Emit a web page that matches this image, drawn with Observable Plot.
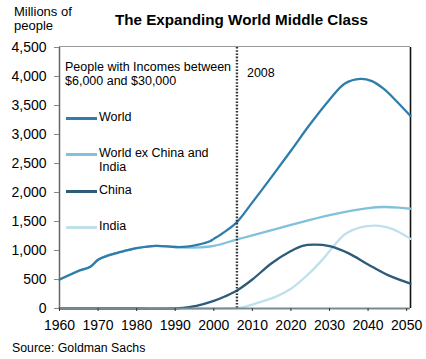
<!DOCTYPE html>
<html>
<head>
<meta charset="utf-8">
<script src="https://cdn.jsdelivr.net/npm/d3@7"></script>
<script src="https://cdn.jsdelivr.net/npm/@observablehq/plot@0.6"></script>
<style>
  body { margin: 0; background: #fff; }
  #wrap { position: relative; width: 426px; height: 359px; font-family: "Liberation Sans", Arial, sans-serif; color: #000; overflow: hidden; }
  #wrap svg { position: absolute; left: 0; top: 0; }
  .t { position: absolute; white-space: nowrap; }
  .leg { position: absolute; left: 66px; font-size: 12.5px; line-height: 13.5px; }
  .leg .sw { position: absolute; left: 0; width: 31px; height: 2.5px; }
  .leg .lb { position: absolute; left: 33px; white-space: nowrap; }
</style>
</head>
<body>
<div id="wrap"></div>
<script>
// ---- data ----
const worldYears = [1960,1963,1965,1968,1970,1972,1975,1978,1980,1985,1990,1993,1996,1999,2000,2003,2006,2010,2015,2020,2025,2030,2034,2038,2041,2044,2047,2051];
const worldValues = [500,590,650,720,840,900,960,1010,1040,1080,1060,1065,1100,1160,1200,1330,1490,1830,2270,2720,3180,3600,3880,3960,3920,3790,3600,3320];

const exYears = [1960,1963,1965,1968,1970,1972,1975,1978,1980,1985,1990,1995,2000,2006,2010,2020,2030,2040,2044,2048,2051];
const exValues = [500,590,650,720,840,900,960,1010,1040,1080,1060,1050,1080,1190,1260,1440,1610,1730,1750,1740,1720];

const chinaYears = [1960,1970,1980,1990,1992,1995,1998,2000,2003,2006,2010,2015,2020,2023,2026,2030,2035,2040,2045,2051];
const chinaValues = [0,0,0,0,10,40,90,130,210,310,500,780,990,1080,1100,1075,950,760,580,430];

const indiaYears = [1960,1970,1980,1990,2000,2004,2008,2012,2016,2020,2024,2028,2031,2034,2038,2042,2045,2048,2051];
const indiaValues = [0,0,0,0,0,5,30,110,200,340,560,830,1070,1280,1400,1430,1400,1320,1200];

const seriesNames = ["World", "World ex China and India", "China", "India"];
const seriesColors = ["#2f7dab", "#80c1db", "#2d5b79", "#c0e1ec"];
const legendLabels = ["World", "World ex China and\nIndia", "China", "India"];

const yTicks = [0,500,1000,1500,2000,2500,3000,3500,4000,4500];
const xTicks = [1960,1970,1980,1990,2000,2010,2020,2030,2040,2050];
const eventYear = 2006;
const eventLabel = "2008";
const titleText = "The Expanding World Middle Class";
const unitText = "Millions of\npeople";
const noteText = "People with Incomes between\n$6,000 and $30,000";
const sourceText = "Source: Goldman Sachs";

function toRows(name, years, values) {
  return years.map((y, i) => ({series: name, year: y, value: values[i]}));
}
const rows = [
  ...toRows(seriesNames[0], worldYears, worldValues),
  ...toRows(seriesNames[1], exYears, exValues),
  ...toRows(seriesNames[3], indiaYears, indiaValues),
  ...toRows(seriesNames[2], chinaYears, chinaValues)
];

const colorOf = Object.fromEntries(seriesNames.map((n, i) => [n, seriesColors[i]]));
const drawOrder = [seriesNames[3], seriesNames[1], seriesNames[2], seriesNames[0]];

const chart = Plot.plot({
  width: 426,
  height: 359,
  marginLeft: 59,
  marginRight: 16,
  marginTop: 47,
  marginBottom: 51,
  style: {fontFamily: "Liberation Sans, Arial, sans-serif", background: "transparent", overflow: "visible"},
  x: {domain: [1960, 2051]},
  y: {domain: [0, 4500]},
  marks: [
    Plot.ruleY([4500], {stroke: "#9a9a9a", strokeWidth: 1, dy: -1}),
    Plot.ruleX([2051], {stroke: "#111", strokeWidth: 1.6}),
    ...drawOrder.map(n => Plot.line(rows.filter(d => d.series === n), {
      x: "year", y: "value", stroke: colorOf[n], strokeWidth: 2.3, curve: "catmull-rom"
    })),
    Plot.ruleX([eventYear], {stroke: "#333", strokeWidth: 2.4, strokeDasharray: "1.6 1.6"}),
    Plot.text([eventLabel], {x: () => eventYear, text: d => d, frameAnchor: "top", dy: 21, dx: 10, textAnchor: "start", fontSize: 12.5, fill: "#000"}),
    Plot.ruleY([0], {stroke: "#7a8a92", strokeWidth: 2}),
    Plot.ruleX([1960], {stroke: "#666", strokeWidth: 1.5}),
    Plot.axisY({ticks: yTicks, tickFormat: d3.format(","), tickSize: 5, tickPadding: 8, fontSize: 14, color: "#000", stroke: "#888", label: null}),
    Plot.axisX({ticks: xTicks, tickFormat: d => String(d), tickSize: 3, tickPadding: 9, fontSize: 14, color: "#000", stroke: "#333", label: null})
  ]
});

const wrap = document.getElementById("wrap");
wrap.appendChild(chart);

function addText(txt, left, top, size, weight, lh) {
  const d = document.createElement("div");
  d.className = "t";
  d.style.left = left + "px";
  d.style.top = top + "px";
  d.style.fontSize = size + "px";
  d.style.fontWeight = weight || "normal";
  d.style.lineHeight = (lh || size * 1.1) + "px";
  d.innerHTML = txt.split("\n").join("<br>");
  wrap.appendChild(d);
  return d;
}
addText(unitText, 14, 5, 13, "normal", 14);
const tt = addText(titleText, 0, 11, 15.2, "bold", 17);
tt.style.left = "115px";
addText(noteText, 65, 61, 12.5, "normal", 13.5);
addText(sourceText, 12, 341, 12.3, "normal", 15);

const legTops = [118, 154, 191, 227];
legendLabels.forEach((lab, i) => {
  const g = document.createElement("div");
  g.className = "leg";
  g.style.top = legTops[i] + "px";
  const sw = document.createElement("div");
  sw.className = "sw";
  sw.style.background = seriesColors[i];
  sw.style.top = "-1px";
  const lb = document.createElement("div");
  lb.className = "lb";
  lb.style.top = "-7px";
  lb.innerHTML = lab.split("\n").join("<br>");
  g.appendChild(sw);
  g.appendChild(lb);
  wrap.appendChild(g);
});
</script>
</body>
</html>
